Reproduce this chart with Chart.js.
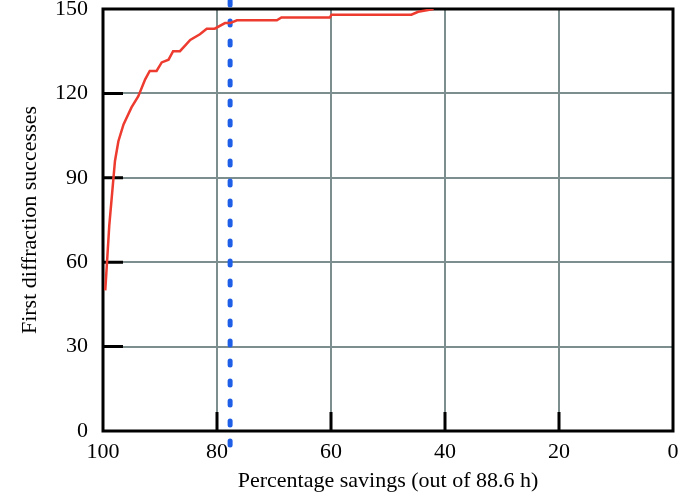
<!DOCTYPE html>
<html>
<head>
<meta charset="utf-8">
<script src="https://cdn.jsdelivr.net/npm/chart.js@4"></script>
<style>
  html, body { margin: 0; padding: 0; background: #fff; }
  #wrap { width: 697px; height: 494px; }
</style>
</head>
<body>
<div id="wrap"><canvas id="myChart"></canvas></div>
<script>
// red curve: percentage savings vs first diffraction successes
let savings = [99.6, 98.9, 97.9, 97.3, 96.4, 95.0, 93.8, 92.6, 91.8, 90.6, 89.7, 88.5, 87.7, 86.5, 85.6, 84.7, 83.0, 81.8, 80.4, 78.6, 77.7, 76.5, 69.5, 68.7, 60.2, 59.9, 45.9, 44.7, 42.0];
let successes = [50, 73, 96, 103, 109, 115, 119, 125, 128, 128, 131, 132, 135, 135, 137, 139, 141, 143, 143, 145, 145, 146, 146, 147, 147, 148, 148, 149, 150];

// blue dotted cut-off line
let cutoffX = [77.7, 77.7];
let cutoffY = [-5, 153];

let xTicks = [100, 80, 60, 40, 20, 0];
let yTicks = [0, 30, 60, 90, 120, 150];

const serif = "'Liberation Serif', 'Times New Roman', serif";

function toPoints(xs, ys) {
  return xs.map((x, i) => ({ x: x, y: ys[i] }));
}

// black frame + short inner tick marks
const frame = {
  id: 'frame',
  beforeDatasetsDraw(chart) {
    const { ctx, chartArea: a, scales } = chart;
    ctx.save();
    ctx.strokeStyle = '#000';
    ctx.lineWidth = 3;
    ctx.beginPath();
    yTicks.forEach(v => {
      if (v == 0 || v == 150) return;
      let py = scales.y.getPixelForValue(v);
      ctx.moveTo(a.left, py);
      ctx.lineTo(a.left + 20, py);
    });
    xTicks.forEach(v => {
      if (v == 0 || v == 100) return;
      let px = scales.x.getPixelForValue(v);
      ctx.moveTo(px, a.bottom);
      ctx.lineTo(px, a.bottom - 19);
    });
    ctx.stroke();
    ctx.strokeRect(a.left, a.top, a.right - a.left, a.bottom - a.top);
    ctx.restore();
  }
};

function noPad(s) {
  s.paddingTop = 0;
  s.paddingBottom = 0;
  s.paddingLeft = 0;
  s.paddingRight = 0;
}

new Chart(document.getElementById('myChart'), {
  type: 'scatter',
  data: {
    datasets: [
      {
        data: toPoints(savings, successes),
        showLine: true,
        borderColor: '#ee3b2f',
        borderWidth: 2.5,
        pointRadius: 0,
        tension: 0
      },
      {
        data: toPoints(cutoffX, cutoffY),
        showLine: true,
        borderColor: '#1f5fe8',
        borderWidth: 5,
        borderDash: [4, 16],
        borderCapStyle: 'round',
        pointRadius: 0,
        clip: false
      }
    ]
  },
  options: {
    responsive: true,
    maintainAspectRatio: false,
    animation: false,
    layout: { padding: { top: 9, right: 24, left: 0, bottom: 0 } },
    plugins: {
      legend: { display: false },
      tooltip: { enabled: false }
    },
    scales: {
      x: {
        type: 'linear',
        reverse: true,
        min: 0,
        max: 100,
        afterFit: s => { s.height = 63; noPad(s); },
        afterBuildTicks: s => { s.ticks = xTicks.map(v => ({ value: v })); },
        ticks: { color: '#000', padding: 8, font: { family: serif, size: 22 } },
        grid: { color: '#7d8e8e', lineWidth: 2, drawTicks: false },
        border: { display: false },
        title: {
          display: true,
          text: 'Percentage savings (out of 88.6 h)',
          color: '#000',
          font: { family: serif, size: 22, lineHeight: 1.2 },
          padding: { top: 0, bottom: 0 }
        }
      },
      y: {
        min: 0,
        max: 150,
        afterFit: s => { s.width = 103; noPad(s); },
        afterBuildTicks: s => { s.ticks = yTicks.map(v => ({ value: v })); },
        ticks: { color: '#000', padding: 15, font: { family: serif, size: 22 } },
        grid: { color: '#7d8e8e', lineWidth: 2, drawTicks: false },
        border: { display: false },
        title: {
          display: true,
          text: 'First diffraction successes',
          color: '#000',
          font: { family: serif, size: 22, lineHeight: 1.2 },
          padding: { top: 17, bottom: 0 }
        }
      }
    }
  },
  plugins: [frame]
});
</script>
</body>
</html>
